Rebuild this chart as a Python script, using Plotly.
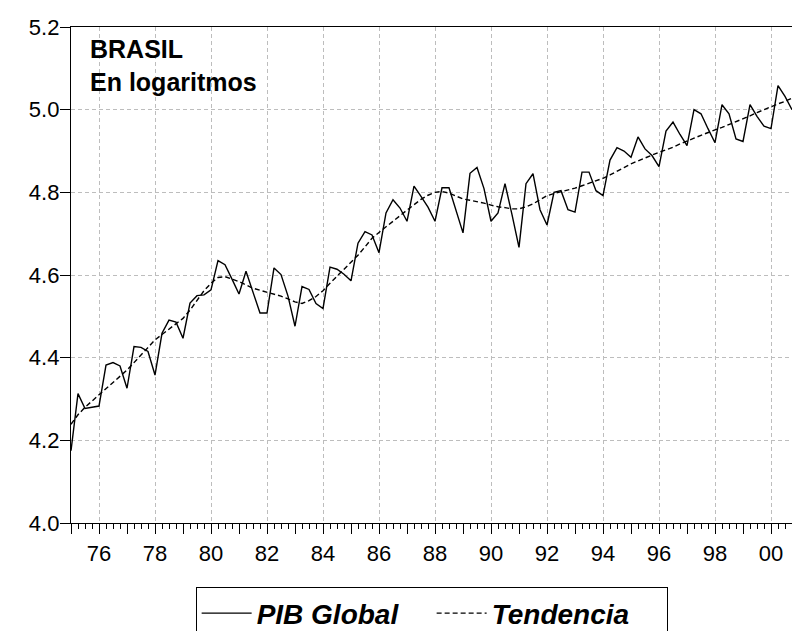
import plotly.graph_objects as go

# quarterly data, 1975Q1 .. 2000Q4
years = list(range(1975, 2001))
pib_global = [
    4.175, 4.313, 4.277, 4.280,
    4.283, 4.382, 4.388, 4.380,
    4.326, 4.427, 4.425, 4.415,
    4.358, 4.459, 4.491, 4.486,
    4.447, 4.532, 4.550, 4.552,
    4.564, 4.635, 4.625, 4.590,
    4.554, 4.609, 4.561, 4.508,
    4.508, 4.617, 4.601, 4.549,
    4.476, 4.572, 4.565, 4.531,
    4.519, 4.619, 4.614, 4.602,
    4.586, 4.677, 4.705, 4.697,
    4.654, 4.750, 4.782, 4.762,
    4.730, 4.815, 4.790, 4.764,
    4.730, 4.811, 4.811, 4.758,
    4.702, 4.846, 4.860, 4.809,
    4.730, 4.750, 4.821, 4.746,
    4.667, 4.821, 4.845, 4.758,
    4.721, 4.800, 4.804, 4.758,
    4.752, 4.849, 4.849, 4.804,
    4.792, 4.878, 4.908, 4.900,
    4.885, 4.934, 4.905, 4.889,
    4.862, 4.948, 4.970, 4.940,
    4.913, 5.000, 4.990, 4.954,
    4.920, 5.012, 4.990, 4.929,
    4.923, 5.012, 4.984, 4.960,
    4.954, 5.058, 5.032, 5.000,
]
tendencia = [
    4.239, 4.262, 4.280, 4.295,
    4.310, 4.325, 4.340, 4.355,
    4.370, 4.388, 4.406, 4.424,
    4.443, 4.456, 4.469, 4.482,
    4.495, 4.515, 4.538, 4.562,
    4.580, 4.594, 4.596, 4.590,
    4.584, 4.576, 4.568, 4.563,
    4.558, 4.554, 4.549, 4.542,
    4.535, 4.531, 4.538, 4.548,
    4.562, 4.580, 4.597, 4.615,
    4.633, 4.648, 4.668, 4.689,
    4.703, 4.717, 4.730, 4.745,
    4.757, 4.770, 4.783, 4.793,
    4.800, 4.802, 4.798, 4.791,
    4.784, 4.781, 4.778, 4.774,
    4.769, 4.765, 4.763, 4.760,
    4.760, 4.765, 4.772, 4.783,
    4.792, 4.797, 4.801, 4.805,
    4.810, 4.816, 4.822, 4.828,
    4.834, 4.842, 4.852, 4.860,
    4.869, 4.876, 4.884, 4.890,
    4.897, 4.903, 4.909, 4.917,
    4.925, 4.931, 4.938, 4.945,
    4.951, 4.957, 4.964, 4.970,
    4.977, 4.985, 4.993, 5.000,
    5.008, 5.014, 5.020, 5.028,
]
label_years = years[1::2]
label_text = [str(y)[2:] for y in label_years]

quarters = [y + q / 4 for y in years for q in range(4)]

FONT = "Liberation Sans, Arial, sans-serif"
GRID = "#bdbdbd"

fig = go.Figure()
fig.add_trace(go.Scatter(
    x=quarters, y=pib_global, mode="lines",
    name="<b><i>PIB Global</i></b>",
    line=dict(color="black", width=1.4),
))
fig.add_trace(go.Scatter(
    x=quarters, y=tendencia, mode="lines", xaxis="x2",
    name="<b><i>Tendencia</i></b>",
    line=dict(color="black", width=1.4, dash="5px,3px"),
))

fig.update_layout(
    width=792, height=631,
    margin=dict(l=71, r=0, t=27, b=108),
    paper_bgcolor="white", plot_bgcolor="white",
    font=dict(family=FONT, size=22, color="black"),
    xaxis=dict(
        range=[1975, 2000.75], automargin=False,
        tickmode="array", tickvals=label_years, ticktext=label_text,
        ticks="outside", ticklen=10, tickcolor="black", tickwidth=1,
        showline=True, linecolor="black", linewidth=1.3, mirror=True,
        showgrid=True, gridcolor=GRID, griddash="4px,3px", gridwidth=1,
        zeroline=False,
        minor=dict(tickmode="array", tickvals=quarters, ticks="outside",
                   ticklen=5, tickcolor="black", showgrid=False),
    ),
    xaxis2=dict(
        range=[1975, 2000.75], overlaying="x", anchor="y", side="bottom",
        automargin=False,
        tickmode="array", tickvals=years,
        ticks="outside", ticklen=10, tickcolor="black",
        showticklabels=False, showgrid=False, showline=False, zeroline=False,
    ),
    yaxis=dict(
        range=[4.0, 5.2], dtick=0.2, tick0=4.0, tickformat=".1f",
        automargin=False,
        ticks="outside", ticklen=10, tickcolor="black",
        showline=True, linecolor="black", linewidth=1.3,
        showgrid=True, gridcolor=GRID, griddash="4px,3px", gridwidth=1,
        zeroline=False, ticklabelstandoff=-4,
    ),
    legend=dict(
        orientation="h", xref="container", yref="container",
        x=0.545, xanchor="center", y=0.069, yanchor="top",
        bordercolor="black", borderwidth=1, font=dict(size=28),
        entrywidth=170, entrywidthmode="pixels", itemwidth=50,
    ),
    annotations=[dict(
        text="<b>BRASIL<br>En logaritmos</b>",
        xref="paper", yref="paper", x=0.024, y=0.988,
        xanchor="left", yanchor="top", align="left",
        showarrow=False, font=dict(size=25),
    )],
)

# page body margin off so the 792x631 figure fills the window exactly
fig.write_html("out.html", config={"displayModeBar": False},
               post_script="document.body.style.margin = '0px';")
